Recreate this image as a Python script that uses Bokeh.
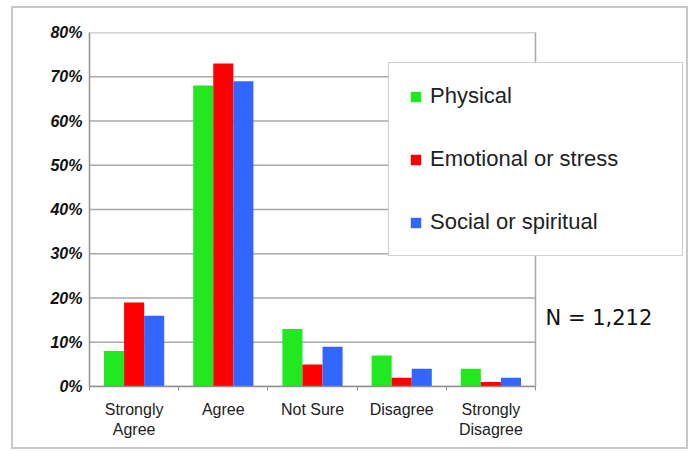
from bokeh.plotting import figure
from bokeh.models import (ColumnDataSource, FixedTicker, PrintfTickFormatter,
                          Legend, LegendItem, Label, Range1d)
from bokeh.embed import file_html
from bokeh.resources import INLINE

categories = ["Strongly\nAgree", "Agree", "Not Sure", "Disagree", "Strongly\nDisagree"]
series_names = ["Physical", "Emotional or stress", "Social or spiritual"]
physical = [8, 68, 13, 7, 4]
emotional = [19, 73, 5, 2, 1]
social = [16, 69, 9, 4, 2]
y_ticks = [0, 10, 20, 30, 40, 50, 60, 70, 80]
note = "N = 1,212"

colors = ["#22e822", "#ff0000", "#3366ff"]
bar_w = 0.225
n = len(categories)

# layout (pixels)
W, H = 677, 443
left_b, top_b, right_b, bottom_b = 76, 24, 4, 65
frame_w = W - left_b - right_b
cat_px = 89.2
x_end = frame_w / cat_px

centers = [i + 0.5 for i in range(n)]
bounds = list(range(n + 1))

p = figure(width=W, height=H, output_backend="svg", toolbar_location=None,
           x_range=Range1d(0, x_end), y_range=Range1d(0, 80),
           min_border_left=left_b, min_border_top=top_b, min_border_right=right_b,
           min_border_bottom=bottom_b)
p.styles = {"border": "2px solid #c8c8c8", "margin-left": "11px", "margin-top": "6px"}
p.background_fill_color = "white"
p.border_fill_color = "white"
p.outline_line_color = None

# grid lines (limited to the plot area) and right border of plot area
p.segment(x0=[0] * len(y_ticks), x1=[n] * len(y_ticks), y0=y_ticks, y1=y_ticks,
          line_color="#a8a8a8", line_width=1.5)
p.segment(x0=[n], x1=[n], y0=[y_ticks[0]], y1=[y_ticks[-1]],
          line_color="#a8a8a8", line_width=1.5)

renderers = []
for k, (name, vals) in enumerate(zip(series_names, [physical, emotional, social])):
    src = ColumnDataSource(dict(x=[c + (k - 1) * bar_w for c in centers], top=vals))
    r = p.vbar(x="x", top="top", width=bar_w, source=src, fill_color=colors[k],
               line_color=None)
    renderers.append((name, r))

# axes
p.xaxis.bounds = (0, n)
p.xaxis.ticker = FixedTicker(ticks=centers, minor_ticks=bounds)
p.xaxis.major_label_overrides = {c: lab for c, lab in zip(centers, categories)}
p.xaxis.major_tick_line_color = None
p.xaxis.major_tick_out = 0
p.xaxis.major_tick_in = 0
p.xaxis.minor_tick_line_color = "#909090"
p.xaxis.minor_tick_out = 4
p.xaxis.minor_tick_in = 0
p.xaxis.axis_line_color = "#909090"
p.xaxis.axis_line_width = 1.5
p.xaxis.major_label_text_font = "Liberation Sans"
p.xaxis.major_label_text_font_size = "16px"
p.xaxis.major_label_text_color = "#222222"
p.xaxis.major_label_standoff = 10

p.yaxis.ticker = FixedTicker(ticks=y_ticks)
p.yaxis.formatter = PrintfTickFormatter(format="%d%%")
p.yaxis.major_tick_line_color = None
p.yaxis.minor_tick_line_color = None
p.yaxis.major_tick_out = 0
p.yaxis.axis_line_color = "#909090"
p.yaxis.axis_line_width = 1.5
p.yaxis.major_label_text_font = "Liberation Sans"
p.yaxis.major_label_text_font_style = "bold italic"
p.yaxis.major_label_text_font_size = "16px"
p.yaxis.major_label_text_color = "#111111"
p.yaxis.major_label_standoff = 7

p.xgrid.grid_line_color = None
p.ygrid.grid_line_color = None

legend = Legend(items=[LegendItem(label=nm, renderers=[r]) for nm, r in renderers],
                location=(299, 130), orientation="vertical",
                padding=20, spacing=37, label_height=21, label_width=232,
                glyph_width=13, glyph_height=13, label_standoff=8,
                border_line_color="#a0a0a0", border_line_width=1.5,
                background_fill_color="white", background_fill_alpha=1.0,
                label_text_font="Liberation Sans", label_text_font_size="22px",
                label_text_color="#222222", margin=0)
p.add_layout(legend, "center")

p.add_layout(Label(x=456, y=69, x_units="screen", y_units="screen", text=note,
                   text_font="DejaVu Sans", text_font_size="21px",
                   text_baseline="middle", text_color="#111111"))

open("out.html", "w").write(file_html(p, INLINE))
